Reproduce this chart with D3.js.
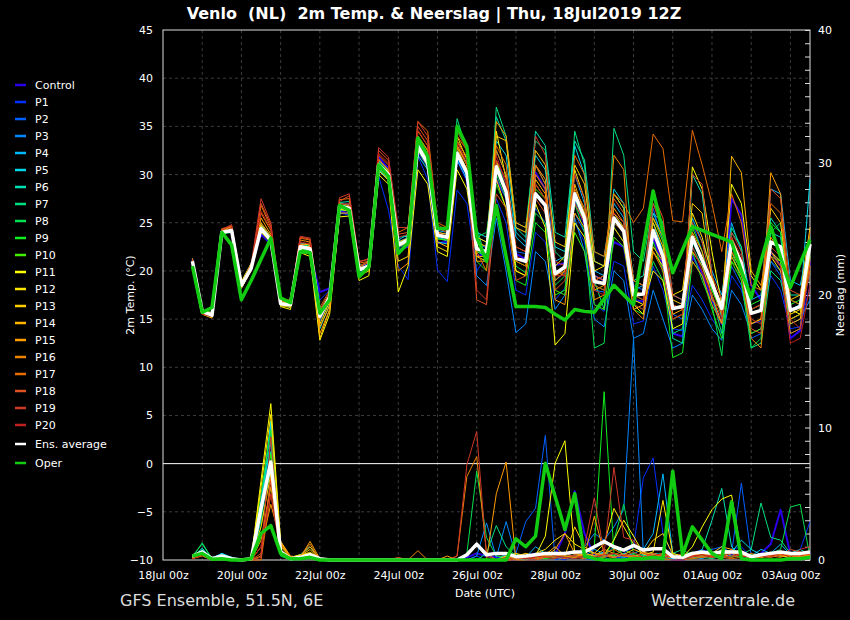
<!DOCTYPE html>
<html>
<head>
<meta charset="utf-8">
<script src="https://cdn.jsdelivr.net/npm/d3@7"></script>
<style>
  body { margin: 0; background: #000; }
  text { font-family: "DejaVu Sans", sans-serif; }
</style>
</head>
<body>
<svg id="chart" width="850" height="620"></svg>
<script>
// forecast steps (hours after the 18Jul2019 12Z run)
var stepHours = d3.range(6, 385, 6);

var memberNames = ["Control","P1","P2","P3","P4","P5","P6","P7","P8","P9","P10",
    "P11","P12","P13","P14","P15","P16","P17","P18","P19","P20"];

// 2m temperature (C)
var tempControl = [21.2,15.9,15.6,24.2,24.0,18.7,20.6,23.8, 22.8,16.8,16.9,22.9,21.8,17.8,18.2,26.2, 26.0,20.3,20.8,31.8,30.6,22.2,22.5,32.4, 30.8,22.9,23.0,31.6,29.4,21.5,21.8,29.5, 27.6,21.8,21.2,30.2,28.5,20.6,20.8,27.4, 24.8,19.5,19.0,23.0,22.5,17.0,16.8,23.5, 20.5,13.5,13.2,21.5,19.8,17.0,14.5,27.5, 25.8,18.5,17.0,22.0,20.5,13.0,13.8,21.0];
var tempP1 = [21.0,15.6,15.2,23.8,24.4,18.3,20.0,24.0, 23.4,16.4,16.3,22.2,22.6,17.0,18.0,26.0, 25.8,19.8,20.2,29.8,26.3,20.5,19.1,31.9, 29.5,20.1,18.9,28.4,27.0,20.0,21.5,27.5, 25.0,18.0,17.5,24.0,23.0,17.0,18.2,25.0, 23.0,16.5,15.8,21.0,20.5,14.5,14.8,20.5, 18.0,14.0,13.8,18.5,17.0,15.0,13.5,19.5, 18.0,14.5,14.8,19.5,18.0,14.0,14.2,18.5];
var tempP2 = [20.9,15.9,15.5,24.1,24.3,18.6,20.2,24.6, 23.0,16.5,16.2,22.4,22.0,14.8,16.8,26.5, 26.8,20.0,20.3,31.5,30.5,23.0,23.5,33.5, 31.8,24.0,23.8,32.5,30.5,22.8,22.4,31.5, 29.0,22.0,21.8,26.5,25.0,19.0,19.8,26.0, 24.0,18.0,17.8,26.0,25.0,18.5,18.0,26.5, 23.0,15.5,15.0,25.0,22.0,18.5,15.5,20.5, 18.5,13.0,13.5,21.0,19.5,13.5,14.0,24.0];
var tempP3 = [21.1,15.8,15.3,24.0,24.1,18.4,20.4,24.2, 23.3,16.6,16.6,22.6,22.4,15.0,17.2,26.6, 26.4,20.2,20.6,30.8,29.6,22.4,22.9,32.6, 31.0,23.4,23.1,31.8,29.8,19.5,18.5,25.5, 20.0,13.6,14.5,22.0,21.0,16.0,17.5,25.5, 22.0,15.0,14.2,20.0,19.0,13.0,13.5,18.0, 15.0,12.0,12.5,17.5,16.0,14.0,12.8,18.0, 16.5,13.5,14.0,21.0,20.0,14.5,15.0,17.0];
var tempP4 = [20.9,15.7,15.6,23.9,24.5,18.8,20.5,24.8, 23.6,16.9,16.8,22.9,22.8,15.6,17.5,27.0, 26.9,20.4,20.9,31.4,30.4,23.2,23.8,33.2, 31.5,24.2,24.0,33.0,31.2,23.5,23.0,32.5, 30.0,23.5,22.5,31.0,29.0,21.0,21.5,30.0, 27.0,20.0,19.5,27.0,25.5,18.0,18.5,26.0, 23.5,17.5,17.0,25.5,23.0,20.0,17.5,25.0, 22.0,17.0,17.5,28.5,28.0,19.0,18.5,23.5];
var tempP5 = [21.0,15.9,15.5,24.1,24.2,18.5,20.3,24.5, 23.1,16.7,16.4,22.5,22.1,14.0,16.5,26.3, 26.3,20.0,20.4,30.5,29.5,22.5,23.0,32.0, 30.5,23.0,22.8,31.5,29.5,24.0,23.5,33.5, 32.0,24.0,23.0,32.0,30.5,22.5,22.0,33.0, 30.0,21.0,20.5,28.5,27.0,19.0,18.5,25.0, 22.0,16.0,16.5,23.0,21.0,18.0,16.0,22.0, 20.0,15.5,16.0,24.0,23.5,16.0,16.5,29.5];
var tempP6 = [21.0,15.7,15.3,24.2,24.4,18.2,20.1,24.7, 23.5,16.4,16.8,22.7,22.6,15.8,17.6,27.1, 27.2,20.6,20.8,31.2,30.2,23.5,23.6,33.0, 31.5,23.5,23.2,32.0,30.0,22.0,21.5,36.0, 33.5,24.5,23.5,34.5,33.0,24.0,23.5,33.5, 31.5,22.0,21.5,28.0,26.5,19.0,19.5,26.0, 25.0,13.0,12.5,30.0,28.0,19.5,15.0,24.0, 22.5,16.0,16.5,25.5,24.0,17.5,17.5,23.0];
var tempP7 = [21.1,15.8,15.6,24.3,24.6,18.4,20.2,24.3, 23.2,16.7,16.4,22.4,22.2,15.2,17.0,26.9, 26.7,20.1,20.3,31.3,30.3,23.0,23.4,33.3, 31.6,24.5,24.0,35.8,32.5,24.5,21.0,37.0, 34.0,25.0,24.5,33.5,32.5,22.0,21.0,34.5, 31.0,19.0,16.0,34.8,32.0,22.0,21.0,27.0, 25.0,13.5,14.0,22.5,20.5,17.5,13.5,24.5, 22.5,12.0,12.5,20.0,19.0,15.0,15.5,21.5];
var tempP8 = [20.8,15.6,15.3,23.8,24.0,18.3,20.1,24.2, 23.0,16.4,16.3,22.2,21.9,15.4,17.4,26.4, 26.2,19.8,20.2,30.7,29.8,22.8,23.1,32.8, 31.1,23.8,23.6,32.2,30.0,23.5,24.0,30.0, 27.5,20.5,19.8,26.0,25.0,18.5,19.5,27.0, 24.0,12.0,12.5,25.0,24.0,16.5,16.0,21.0, 19.0,15.0,15.5,22.0,19.0,16.5,11.2,22.0, 19.0,12.0,13.0,24.0,25.0,17.0,16.5,22.5];
var tempP9 = [21.0,15.7,15.4,23.9,24.2,18.6,20.4,24.4, 23.1,16.5,16.6,22.5,22.4,15.5,17.3,26.8, 26.6,20.2,20.6,31.1,30.1,22.9,23.3,33.1, 31.4,23.7,23.6,32.4,30.5,21.0,20.0,29.0, 26.5,19.0,18.5,25.0,24.0,17.5,18.0,27.5, 25.0,18.5,18.0,24.5,23.0,16.0,15.5,23.0, 20.0,11.0,11.5,21.0,19.5,16.0,13.0,21.0, 20.0,16.5,17.0,25.0,24.0,16.5,17.0,23.5];
var tempP10 = [21.2,15.9,15.7,24.1,24.0,18.8,20.6,24.1, 22.9,16.8,16.7,22.3,22.0,15.9,17.8,26.4, 26.3,20.0,20.4,30.6,29.7,22.5,23.0,32.5, 30.8,23.3,23.2,31.9,30.0,22.0,21.8,31.5, 28.5,21.0,20.5,28.5,27.5,18.0,17.5,24.0, 22.0,16.5,16.0,23.5,22.5,17.5,17.0,25.5, 23.0,16.0,16.5,24.5,22.0,18.0,15.5,21.0, 19.0,13.5,14.0,21.5,21.0,15.0,15.5,22.0];
var tempP11 = [21.3,15.8,15.2,23.6,24.5,18.9,20.8,24.0, 23.0,16.3,16.0,21.9,21.5,12.8,15.5,25.6, 25.7,19.0,19.5,30.0,29.0,17.8,20.5,30.5, 29.0,22.0,21.5,30.5,28.5,21.5,21.0,34.5, 29.5,20.0,19.5,27.0,24.5,12.3,13.5,25.0, 23.5,19.0,19.5,25.5,24.0,17.0,16.5,20.0, 19.0,14.0,14.5,30.8,28.5,22.0,16.5,29.0, 27.0,19.5,18.0,22.0,21.0,16.0,15.5,20.5];
var tempP12 = [21.1,15.6,15.3,23.9,24.3,18.4,20.5,24.6, 23.3,16.5,16.4,22.6,22.5,14.5,16.8,26.4, 26.2,20.3,20.6,30.4,29.4,21.0,21.5,34.0, 32.5,22.5,22.0,34.0,31.5,23.0,22.5,29.5, 26.5,20.0,19.5,29.0,27.5,20.5,21.5,30.5, 27.5,20.0,20.5,26.0,24.5,16.5,15.5,22.0, 20.5,17.5,18.0,26.0,23.5,19.5,15.5,23.5, 21.0,14.5,15.0,21.5,20.0,15.5,16.0,23.0];
var tempP13 = [20.9,15.9,15.4,24.1,24.5,18.6,20.3,24.8, 23.4,16.9,16.6,22.8,22.7,13.0,16.0,26.0, 26.0,19.5,20.0,31.0,30.3,22.0,22.8,33.8, 32.0,24.0,23.8,33.0,31.0,23.5,23.0,34.0, 33.5,24.5,24.0,32.5,31.0,23.0,22.5,31.0, 29.0,21.0,20.5,28.0,26.5,19.0,18.5,25.0, 22.5,17.0,16.5,27.0,26.0,19.0,16.5,21.5, 19.5,16.0,16.5,26.5,25.0,17.0,17.5,24.5];
var tempP14 = [21.0,15.5,15.1,24.0,24.0,18.2,20.1,25.0, 23.6,16.4,16.2,22.3,22.6,14.2,16.4,26.8, 26.6,20.4,20.9,31.6,30.4,23.0,23.4,33.6, 31.5,23.0,22.5,32.8,30.5,21.5,21.5,31.5, 28.0,21.5,21.0,29.5,28.0,19.0,20.0,29.0, 26.0,18.0,18.5,24.5,23.0,16.0,16.5,22.5, 21.0,15.5,16.0,22.0,20.5,17.5,14.5,31.9, 30.2,20.0,18.5,23.5,22.0,14.5,15.0,21.5];
var tempP15 = [21.2,15.7,15.5,24.2,24.6,18.7,20.5,25.5, 23.8,16.6,16.5,22.7,22.9,13.5,16.0,26.5, 26.8,20.1,20.5,30.8,29.5,20.0,20.8,34.5, 33.0,24.5,24.2,33.5,31.8,21.0,21.0,35.5, 34.0,25.0,24.5,31.0,29.5,17.0,16.5,26.0, 24.5,17.0,17.5,26.5,25.0,18.0,17.5,25.5, 23.5,16.5,16.0,24.0,22.0,17.0,16.0,23.5, 21.0,14.5,15.0,30.2,28.0,15.0,15.5,20.0];
var tempP16 = [20.8,15.6,15.3,24.0,24.3,18.5,20.6,26.0, 24.2,16.8,16.7,23.2,23.0,15.0,17.0,27.0, 26.8,20.5,21.0,31.5,30.5,22.5,23.0,34.0, 32.5,24.0,23.5,33.0,31.0,22.5,22.0,32.5, 30.0,22.5,22.0,30.0,28.5,19.5,20.0,28.5, 26.5,19.5,19.0,32.0,30.5,16.0,15.0,22.0, 20.0,15.0,15.5,21.0,19.5,16.5,14.5,22.0, 20.0,13.0,12.0,22.0,20.5,13.5,14.0,21.0];
var tempP17 = [21.1,15.9,15.6,24.4,24.6,18.3,20.0,26.8, 24.5,16.5,16.8,23.4,23.2,15.8,17.8,27.4, 27.5,20.8,21.0,32.0,31.0,24.0,24.5,35.5, 34.5,25.0,24.5,34.0,32.5,22.0,20.0,33.0, 31.0,21.0,20.5,31.0,29.0,20.0,19.5,32.0, 30.0,22.0,21.5,28.0,27.0,25.0,26.5,34.2, 32.7,25.2,25.1,34.6,31.0,27.0,22.0,28.0, 25.0,18.5,18.0,27.0,26.0,17.0,16.5,24.0];
var tempP18 = [21.0,15.8,15.2,24.2,24.7,18.6,20.4,27.0, 24.8,17.0,17.0,23.5,23.3,16.2,18.0,27.2, 27.8,21.0,21.2,32.5,31.5,23.8,24.0,35.0, 33.5,24.0,23.5,33.5,31.0,17.0,16.5,28.0, 26.5,19.0,19.5,27.5,26.0,18.0,19.0,27.0, 25.0,18.5,18.0,27.5,26.0,19.0,18.5,28.0, 25.5,17.5,17.0,25.0,23.0,18.5,15.5,22.0, 20.5,14.0,13.5,28.5,27.5,18.0,17.5,22.5];
var tempP19 = [21.2,15.7,15.5,24.3,24.8,18.7,20.7,27.5, 25.0,16.9,16.9,23.6,23.4,15.9,17.7,27.6, 28.0,20.9,21.3,32.8,31.8,24.5,24.5,35.5, 34.0,24.8,24.2,34.5,32.5,18.0,17.0,31.5, 29.5,22.5,22.0,34.0,32.0,21.0,20.5,30.0, 27.5,19.0,19.5,25.0,24.0,17.5,17.0,27.0, 24.0,16.5,16.0,30.0,29.0,19.5,17.0,24.0, 22.0,15.0,14.5,22.5,21.5,15.0,14.0,20.5];
var tempP20 = [20.9,15.5,15.3,24.0,24.5,18.4,20.2,26.2, 24.4,16.6,16.4,23.0,22.8,15.6,17.4,26.9, 27.0,20.5,20.9,32.2,31.2,23.5,23.8,34.6, 33.0,24.4,24.0,33.2,31.5,22.5,22.0,32.0, 29.0,21.5,21.0,29.0,27.5,19.5,19.5,28.0, 25.5,18.0,17.5,26.0,25.0,16.5,16.0,24.0, 21.0,15.0,15.5,22.5,20.0,17.5,15.0,23.5, 21.5,16.0,16.5,21.5,20.5,12.5,13.0,18.5];
var ensTemp = [21.0,15.8,15.4,24.0,24.2,18.5,20.3,24.4, 23.2,16.6,16.5,22.5,22.3,15.3,17.3,26.7, 26.5,20.1,20.5,31.0,30.0,22.7,23.2,32.9, 31.2,23.7,23.5,32.2,30.2,22.3,22.0,30.8, 28.2,21.3,21.0,28.0,26.8,19.7,20.4,28.0, 25.5,18.9,18.7,25.5,24.1,17.5,17.6,24.2, 21.5,16.1,16.3,23.5,21.1,18.7,16.1,23.0, 20.8,15.6,15.9,23.0,22.5,15.9,16.3,22.8];
var operTemp = [20.5,15.7,16.2,24.0,22.7,17.0,19.0,21.2, 23.4,17.2,16.7,22.0,21.9,15.6,17.0,26.8, 26.3,19.4,20.4,31.0,29.8,21.8,22.9,33.8, 31.9,24.4,24.4,35.0,32.9,23.5,21.0,26.8, 21.5,16.3,16.3,16.3,16.2,15.5,14.9,16.0, 15.8,15.7,17.1,18.5,17.5,16.5,22.5,28.3, 24.0,19.8,22.2,24.6,24.2,23.8,23.4,23.0, 20.0,17.2,21.0,24.6,21.4,18.3,20.8,23.2];

// 6-hourly precipitation (mm)
var precControl = [0.2,0.6,0.1,0.3,0.1,0,0.1,3.5, 7.0,0.5,0.1,0.2,0.4,0.1,0,0, 0,0,0,0,0,0,0,0, 0,0,0,0,0.2,0.5,0.3,0.2, 0.1,0,0.3,0.5,0.2,0.4,2.0,5.2, 2.0,0.3,0.5,0.2,0.1,0.3,0.2,0.4, 0.3,0,0,0.2,0.5,0.3,0.2,0.4, 0.6,0.2,0.5,1.2,3.8,0.4,0.2,0.6];
var precP1 = [0.3,0.7,0.1,0.2,0.1,0,0.1,4.9, 8.7,0.4,0.1,0.3,0.3,0,0,0, 0,0,0,0,0,0,0,0, 0,0,0,0,0,0.3,0,0, 0,0.2,0,0,0.3,0.2,0,0.4, 0.2,0.1,0.2,0,0.5,1.0,6.2,7.7, 2.0,0.3,0,0.5,0.8,0.4,0.3,0.8, 1.0,0.2,0.3,0.6,0.4,0.5,0.8,2.9];
var precP2 = [0.2,0.5,0.1,0.3,0,0,0.1,4.0, 7.5,0.6,0.2,0.2,0.5,0,0,0, 0,0,0,0,0,0,0,0, 0,0,0,0,0,0,0,0, 0.4,0.5,2.9,3.9,9.4,0,0.2,0.3, 0.1,0,0.3,0.5,0.2,0,0.3,0.5, 0.4,0,0.2,0.3,0.6,0.8,1.0,0.5, 5.8,0.3,0.2,0.4,0.3,0.2,0.5,0.4];
var precP3 = [0.3,0.6,0.2,0.4,0.1,0,0,3.0, 9.5,0.5,0,0.1,0.3,0,0,0, 0,0,0,0,0,0,0,0, 0,0,0,0,0,0.3,2.8,0.2, 2.9,0.3,0.1,0.5,0.3,0.2,0.1,0.4, 1.0,2.0,1.5,2.5,3.8,16.7,0.5,0.3, 0.5,0.2,0.1,0.4,0.3,0.5,1.0,0.5, 0.3,0.1,0.2,0.5,0.3,0.2,0.4,0.3];
var precP4 = [0.2,0.8,0.1,0.5,0.1,0,0.1,4.5, 10.2,0.6,0.1,0.3,0.5,0.1,0,0, 0,0,0,0,0,0,0,0, 0,0,0,0,0,0,0,0, 0.5,0.3,0.2,1.0,0.5,0.3,0.6,0.2, 0.3,0.8,0.5,0.3,0.2,0.5,0.8,2.0, 6.5,0.5,0.3,0.2,0.1,0.4,0.6,0.3, 0.5,0.3,0.8,0.5,1.2,0.4,0.3,0.5];
var precP5 = [0.3,0.7,0.1,0.5,0.2,0,0.1,3.8, 10.5,0.8,0.1,0.4,1.0,0.1,0,0, 0,0,0,0,0,0,0,0, 0,0,0,0,0,0,0,0, 0.2,0.1,0,0.3,0.5,0.3,0.2,0.1, 0.4,0.3,0.6,0.2,0.5,0.3,0.4,0.2, 0.3,0.1,0.2,0.5,0.4,0.3,0.8,0.6, 1.5,0.8,0.4,0.3,0.5,0.2,0.3,0.6];
var precP6 = [0.2,0.9,0,0.3,0.1,0,0,4.2, 9.0,0.5,0.1,0.2,0.3,0,0,0, 0,0,0,0,0,0,0,0, 0,0,0,0,0,0,0,0, 0.1,0,0.2,0.5,0.4,0.2,0.1,0.3, 0.2,0.5,0.3,1.0,0.4,0.2,0.3,0.5, 0.4,0.2,0.1,0.3,0.8,3.0,5.4,1.0, 0.3,0.2,0.5,0.4,0.3,0.5,0.8,0.4];
var precP7 = [0.3,1.2,0.1,0.4,0.1,0,0.1,3.0, 8.2,0.4,0,0.2,0.3,0,0,0, 0,0,0,0,0,0,0,0, 0,0,0,0,0,0,0.5,2.6, 1.0,0.3,0.1,0.4,0.2,0.3,0.5,0.2, 0.3,0.1,0.2,0.4,0.3,0.2,0.1,0.3, 0.2,0.5,0.8,0.3,0.2,0.1,0.3,0.5, 0.4,0.8,4.3,1.7,1.5,0.5,0.3,0.2];
var precP8 = [0.2,1.3,0.1,0.3,0.1,0,0.1,2.5, 7.0,0.3,0,0.1,0.2,0,0,0, 0,0,0,0,0,0,0,0, 0,0,0,0,0.5,6.7,1.7,0.3, 0.2,0.4,0.3,0.2,0.1,0.5,0.3,0.2, 0.3,0.5,0.2,1.5,4.2,0.5,0.3,0.2, 0.3,0.2,0.4,0.6,0.3,0.2,0.4,0.5, 0.3,0.2,0.3,0.5,0.8,4.0,4.2,0.2];
var precP9 = [0.3,0.6,0.1,0.2,0,0,0.1,5.0, 9.8,0.5,0.1,0.3,0.4,0,0,0, 0,0,0,0,0,0,0,0, 0,0,0,0,0,0,0,0, 0,0.1,0.2,0.3,0.1,0.2,0.4,0.3, 0.5,1.0,12.7,0.5,0.3,0.2,0.1,0.3, 0.4,0.3,0.2,0.1,0.3,0.5,0.2,0.3, 0.2,0.4,0.3,0.2,0.5,0.3,0.4,0.5];
var precP10 = [0.2,0.5,0,0.2,0.1,0,0,3.5, 8.0,0.4,0.1,0.2,0.3,0,0,0, 0,0,0,0,0,0,0,0, 0,0,0,0,0,0,0,0, 0.3,0.5,0.2,0.1,0.4,0.6,0.3,0.2, 0.3,0.2,0.5,0.3,0.8,0.4,0.2,0.3, 0.1,0.2,0.3,0.5,0.4,0.2,0.3,0.2, 0.4,0.3,0.2,0.5,0.3,0.2,0.6,0.3];
var precP11 = [0.3,0.7,0.1,0.3,0.1,0,0.1,6.0, 11.8,1.4,0.2,0.4,0.5,0,0,0, 0,0,0,0,0,0,0,0, 0,0,0,0,0,0,0,0, 0.2,0.1,0.5,0.3,1.8,7.3,9.0,0.5, 0.3,0.5,0.4,1.5,3.0,1.8,0.5,0.3, 0.5,0.3,0.2,1.0,2.5,3.8,4.6,4.9, 0.5,0.2,0.4,0.3,0.5,0.2,0.3,0.4];
var precP12 = [0.2,0.6,0.1,0.3,0.1,0,0.1,5.5, 11.0,1.2,0.1,0.3,0.6,0,0,0, 0,0,0,0,0,0,0,0, 0,0,0,0,0,0,0,0, 0.3,0.2,0.1,0.5,0.8,1.5,2.0,1.2, 0.8,0.5,1.2,3.9,2.5,1.2,0.4,0.6, 4.5,0.5,0.3,0.2,0.4,0.3,0.2,0.5, 0.3,0.2,0.4,0.6,0.3,0.2,0.5,0.3];
var precP13 = [0.2,0.5,0.1,0.2,0,0,0.1,2.5, 6.5,1.0,0.2,0.3,0.8,0,0,0, 0,0,0,0,0,0,0,0, 0,0,0,0,0,0,0,0, 0.2,0.5,0.3,0.1,0.2,0.4,0.3,2.5, 1.0,0.5,0.3,0.2,0.4,0.8,0.5,1.5, 2.0,0.4,0.2,0.3,0.5,0.2,0.8,0.6, 0.4,0.3,0.2,0.4,0.5,0.3,0.2,0.4];
var precP14 = [0.1,0.5,0.1,0.2,0.1,0,0,1.5, 5.5,1.3,0.2,0.3,1.0,0,0,0, 0,0,0,0,0,0,0,0, 0,0,0,0,0,0,0,0, 0.1,0.3,0.5,0.2,0.4,1.0,0.3,0.2, 0.5,0.3,0.8,0.5,0.3,0.2,0.6,0.4, 0.3,0.2,0.4,0.3,0.2,0.5,1.0,0.8, 0.4,0.2,0.3,0.5,0.4,0.6,0.3,0.2];
var precP15 = [0.2,0.4,0,0.1,0,0,0,1.0, 4.2,1.4,0.3,0.2,1.4,0.1,0,0, 0,0,0,0,0,0,0,0, 0,0,0.3,0,0,0,0,5.0, 7.4,0,0.2,0.5,0.3,0.8,2.0,0.5, 0.3,3.3,0.5,0.2,0.4,0.3,0.2,0.5, 0.3,0.2,0.1,0.4,0.5,0.3,0.4,0.6, 0.5,0.3,0.2,0.3,0.4,0.2,0.3,0.5];
var precP16 = [0.1,0.4,0,0.2,0,0,0,0.3, 6.2,1.2,0.2,0.3,1.2,0,0,0, 0,0,0,0,0,0,0,0.7, 0,0,0,0.3,6.3,7.8,0.5,0, 0.2,0.3,0.2,0.1,0.3,0.5,0.2,0.4, 0.3,0.2,0.5,0.8,0.4,0.3,0.2,0.3, 0.4,0.3,0.2,0.5,0.3,0.2,0.4,0.8, 0.3,0.2,0.4,0.3,0.2,0.5,0.4,0.3];
var precP17 = [0.1,0.3,0,0.1,0,0,0,0, 5.0,0.8,0.1,0.2,0.5,0,0,0, 0,0,0,0,0,0,0,0, 0,0,0,0,0,0,0,0, 0,0,0,0,0.2,0.3,0.5,0.2, 0.1,0.3,0.2,0.5,0.3,0.2,0.1,0.2, 0.1,0,0,0.1,0.2,0.3,0.2,0.1, 0.2,0.5,0.3,0.2,0.4,0.3,0.2,0.3];
var precP18 = [0.1,0.4,0,0.2,0,0,0,0.5, 6.0,0.6,0.1,0.2,0.4,0,0,0, 0,0,0,0,0,0.2,0,0, 0,0,0,0,0,0,0,0, 0,0.1,0.2,0.1,0.3,0.2,0.1,0.3, 0.2,0.5,0.3,0.2,0.4,0.3,0.2,0.5, 0.3,0.2,0.5,0.3,0.2,0.4,0.3,0.2, 0.4,0.3,0.2,0.5,0.3,0.8,0.6,0.4];
var precP19 = [0.2,0.5,0,0.1,0,0,0,0.2, 9.3,0.5,0.1,0.2,0.3,0,0,0, 0,0,0,0,0,0,0,0, 0,0,0,0.3,7.2,9.7,0.3,0, 0,0.2,0.1,0.3,0.2,0.1,0.4,0.3, 1.0,4.7,0.5,7.0,1.7,1.5,0.5,0.3, 0.2,0.3,0.1,0.2,0.4,0.3,0.2,0.3, 0.5,0.2,0.3,0.2,0.6,0.4,0.3,0.5];
var precP20 = [0.1,0.4,0.1,0.2,0,0,0,1.0, 5.0,0.4,0.1,0.2,0.3,0,0,0, 0,0,0,0,0,0,0,0, 0,0,0,0,0,0,0,0, 0.2,0.3,0.1,0.2,0.5,0.3,0.2,0.1, 0.3,0.2,0.4,0.5,0.3,0.6,0.2,0.3, 0.5,0.2,0.1,0.3,0.4,0.2,0.3,0.5, 0.3,0.2,0.4,0.3,0.5,0.2,0.8,1.0];
var ensPrec = [0.3,0.6,0.1,0.3,0.1,0,0.1,3.9, 7.4,0.6,0.1,0.2,0.4,0.1,0,0, 0,0,0,0,0,0,0,0, 0,0,0,0,0.4,1.2,0.4,0.5, 0.5,0.25,0.3,0.4,0.5,0.5,0.5,0.6, 0.6,1.0,1.4,1.0,0.75,1.1,0.75,0.85, 0.85,0.25,0.2,0.5,0.6,0.5,0.6,0.6, 0.6,0.25,0.4,0.5,0.6,0.5,0.5,0.6];
var operPrec = [0.3,0.5,0.05,0.1,0,0,0.1,2.0, 2.6,0.5,0.1,0.1,0.2,0,0,0, 0,0,0,0,0,0,0,0, 0,0,0,0,0,0,0,0, 0,1.6,1.0,1.8,7.3,4.8,2.3,5.0, 0.3,0.1,0,0,0,0.1,0.1,0.2, 0.1,6.7,0.4,2.5,1.5,0.5,0.1,4.4, 0.1,0,0,0,0,0.1,0.1,0.2];

var memberTemps = [tempControl,tempP1,tempP2,tempP3,tempP4,tempP5,tempP6,tempP7,tempP8,tempP9,tempP10,
    tempP11,tempP12,tempP13,tempP14,tempP15,tempP16,tempP17,tempP18,tempP19,tempP20];
var memberPrecs = [precControl,precP1,precP2,precP3,precP4,precP5,precP6,precP7,precP8,precP9,precP10,
    precP11,precP12,precP13,precP14,precP15,precP16,precP17,precP18,precP19,precP20];

var memberColors = ["#2a00e8","#0030ff","#0060ff","#0088ff","#00b8ff","#00d8e8","#00e0b0","#00e080",
    "#00e050","#10f020","#40f000","#ffff00","#ffe600","#ffcc00","#ffb400","#ff9c00","#f08400",
    "#e86c00","#e05020","#d03828","#c02020"];
var operColor = "#11cc11";

var svg = d3.select("#chart");
svg.append("rect").attr("width", 850).attr("height", 620).attr("fill", "#000");

// plot box
var pLeft = 163, pRight = 810, pTop = 30, pBottom = 560;
var runTime = Date.UTC(2019, 6, 18, 12);
var times = stepHours.map(h => new Date(runTime + h * 3600 * 1000));
var startDay = new Date(Date.UTC(2019, 6, 18)), endTime = new Date(Date.UTC(2019, 7, 3, 12));

var x = d3.scaleUtc().domain([startDay, endTime]).range([pLeft, pRight]);
var yT = d3.scaleLinear().domain([-10, 45]).range([pBottom, pTop]);
var yP = d3.scaleLinear().domain([0, 40]).range([pBottom, pTop]);

//grid
var grid = svg.append("g").attr("stroke", "#3c3c3c").attr("stroke-dasharray", "3,3");
grid.selectAll(".gh")
    .data(d3.range(-5, 45, 5).filter(v => v !== 0))
    .enter().append("line")
    .attr("x1", pLeft).attr("x2", pRight)
    .attr("y1", d => yT(d)).attr("y2", d => yT(d));
grid.selectAll(".gv")
    .data(d3.utcDay.range(new Date(Date.UTC(2019, 6, 19)), endTime))
    .enter().append("line")
    .attr("x1", d => x(d)).attr("x2", d => x(d))
    .attr("y1", pTop).attr("y2", pBottom);

svg.append("line")
    .attr("x1", pLeft).attr("x2", pRight)
    .attr("y1", yT(0)).attr("y2", yT(0))
    .attr("stroke", "#fff").attr("stroke-width", 1);

//axes
var axisL = d3.axisLeft(yT).tickValues(d3.range(-10, 46, 5)).tickSize(0).tickPadding(10);
var gL = svg.append("g").attr("transform", "translate(" + pLeft + ",0)").call(axisL);
var axisR = d3.axisRight(yP).tickValues(d3.range(0, 41, 1)).tickSizeInner(-5).tickSizeOuter(0)
    .tickPadding(8).tickFormat(d => d % 10 === 0 ? d : "");
var gR = svg.append("g").attr("transform", "translate(" + pRight + ",0)").call(axisR);
var axisB = d3.axisBottom(x)
    .tickValues(d3.utcDay.range(startDay, endTime, 2))
    .tickFormat(d3.utcFormat("%d%b %Hz")).tickSize(0).tickPadding(11);
var gB = svg.append("g").attr("transform", "translate(0," + pBottom + ")").call(axisB);
[gL, gR, gB].forEach(function(g){
    g.select(".domain").remove();
    g.selectAll("text").attr("fill", "#fff").style("font-size", "11px").style("font-family", "DejaVu Sans");
    g.selectAll("line").attr("stroke", "#ddd");
});

svg.append("rect")
    .attr("x", pLeft).attr("y", pTop)
    .attr("width", pRight - pLeft).attr("height", pBottom - pTop)
    .attr("fill", "none").attr("stroke", "#ddd").attr("stroke-width", 1);

//lines
var lineT = d3.line().x((d, i) => x(times[i])).y(d => yT(d));
var lineP = d3.line().x((d, i) => x(times[i])).y(d => yP(d));

var plot = svg.append("g").attr("fill", "none").attr("stroke-linejoin", "round");
memberNames.forEach(function(name, m){
    var w = m === 0 ? 2 : 1;
    plot.append("path").attr("d", lineP(memberPrecs[m]))
        .attr("stroke", memberColors[m]).attr("stroke-width", w);
    plot.append("path").attr("d", lineT(memberTemps[m]))
        .attr("stroke", memberColors[m]).attr("stroke-width", w);
});
plot.append("path").attr("d", lineP(ensPrec)).attr("stroke", "#fff").attr("stroke-width", 3.5);
plot.append("path").attr("d", lineT(ensTemp)).attr("stroke", "#fff").attr("stroke-width", 3.5);
plot.append("path").attr("d", lineP(operPrec)).attr("stroke", operColor).attr("stroke-width", 3.5);
plot.append("path").attr("d", lineT(operTemp)).attr("stroke", operColor).attr("stroke-width", 3.5);

//legend
var legendNames = memberNames.concat(["Ens. average", "Oper"]);
var legendColors = memberColors.concat(["#fff", operColor]);
var legend = svg.append("g").selectAll("g")
    .data(legendNames).enter().append("g")
    .attr("transform", (d, i) => "translate(0," + (i <= 20 ? 85 + 17 * i : 444 + 19 * (i - 21)) + ")");
legend.append("line").attr("x1", 15).attr("x2", 26)
    .attr("stroke", (d, i) => legendColors[i]).attr("stroke-width", 2.5);
legend.append("text").attr("x", 35).attr("dy", 4)
    .attr("fill", "#fff").style("font-size", "11px").text(d => d);

//texts
svg.append("text").attr("x", 434).attr("y", 19).attr("text-anchor", "middle")
    .attr("fill", "#fff").style("font-size", "16px").style("font-weight", "bold")
    .style("white-space", "pre")
    .text("Venlo  (NL)  2m Temp. & Neerslag | Thu, 18Jul2019 12Z");
svg.append("text").attr("x", 485).attr("y", 597).attr("text-anchor", "middle")
    .attr("fill", "#fff").style("font-size", "11px").text("Date (UTC)");
svg.append("text").attr("transform", "translate(134,295) rotate(-90)").attr("text-anchor", "middle")
    .attr("fill", "#fff").style("font-size", "11px").text("2m Temp. (°C)");
svg.append("text").attr("transform", "translate(844,295) rotate(-90)").attr("text-anchor", "middle")
    .attr("fill", "#fff").style("font-size", "11px").text("Neerslag (mm)");
svg.append("text").attr("x", 120).attr("y", 606)
    .attr("fill", "#ddd").style("font-size", "16px").text("GFS Ensemble, 51.5N, 6E");
svg.append("text").attr("x", 795).attr("y", 606).attr("text-anchor", "end")
    .attr("fill", "#ddd").style("font-size", "16px").text("Wetterzentrale.de");
</script>
</body>
</html>
